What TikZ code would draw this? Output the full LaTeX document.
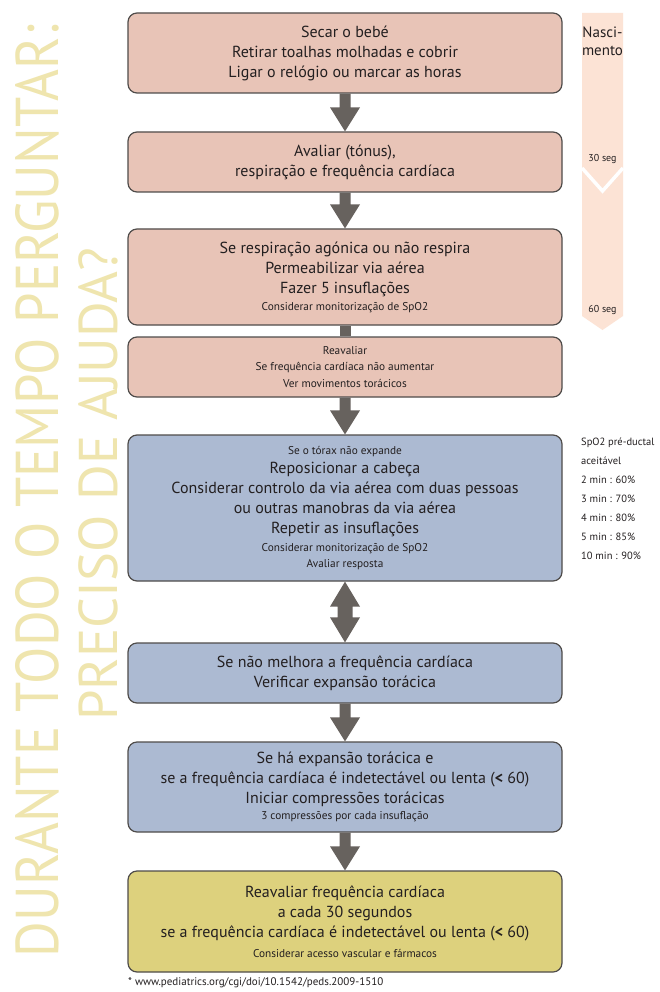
\documentclass[tikz,border=0pt]{standalone}
\usepackage{fontspec}
\setmainfont{PT Sans}
\usetikzlibrary{calc}

\definecolor{boxpink}{HTML}{E8C4B7}
\definecolor{boxblue}{HTML}{ACBAD2}
\definecolor{boxyellow}{HTML}{DDD17D}
\definecolor{boxline}{HTML}{4F4C4A}
\definecolor{arrowc}{HTML}{67625E}
\definecolor{timeline}{HTML}{FCE3D5}
\definecolor{banner}{HTML}{EFE5AE}
\definecolor{ink}{HTML}{231F20}

\newcommand\Lsz{\fontsize{16}{20}\selectfont}
\newcommand\Ssz{\fontsize{11.3}{16.5}\selectfont}

% single downward block arrow between two boxes
\newcommand\flowdown[2]{%
  \fill[arrowc] ($(#1.south)+(-5.5,0)$) -- ($(#2.north)+(-5.5,-24)$)
    -- ($(#2.north)+(-15,-24)$) -- (#2.north) -- ($(#2.north)+(15,-24)$)
    -- ($(#2.north)+(5.5,-24)$) -- ($(#1.south)+(5.5,0)$) -- cycle;}

\begin{document}
\begin{tikzpicture}[x=1pt,y=-1pt,
  stepbox/.style={draw=boxline, line width=1.2pt, rounded corners=9pt,
    minimum width=434pt, align=center, text=ink, inner sep=0pt, font=\Lsz},
  note/.style={text=ink, inner sep=0pt, font=\Ssz},
  bannertext/.style={text=banner, inner sep=0pt, rotate=90, anchor=base}]

\useasboundingbox (0,0) rectangle (659,992);
\fill[white] (0,0) rectangle (659,992);

% vertical banner on the left
\node[bannertext] (ban1) at (58,491)
  {\resizebox{932pt}{43pt}{\fontsize{60}{60}\selectfont DURANTE TODO O TEMPO PERGUNTAR:}};
\node[bannertext] (ban2) at (117,484)
  {\resizebox{473pt}{!}{\fontsize{60}{60}\selectfont PRECISO DE AJUDA?}};

% timeline strip
\fill[timeline] (582,13) -- (623,13) -- (623,316) -- (602.5,330) -- (582,316) -- cycle;
\draw[white, line width=3.5pt] (582,168) -- (602.5,191) -- (623,168);
\node[note, font=\fontsize{15}{18}\selectfont, align=center] (nasc) at (602.5,41) {Nasci-\\mento};
\node[note, font=\fontsize{10}{12}\selectfont] (t30) at (602.5,159) {30 seg};
\node[note, font=\fontsize{10}{12}\selectfont] (t60) at (602.5,310) {60 seg};

% flow boxes
\node[stepbox, fill=boxpink, minimum height=80pt] (b1) at (345,53)
  {Secar o bebé\\Retirar toalhas molhadas e cobrir\\Ligar o relógio ou marcar as horas};
\node[stepbox, fill=boxpink, minimum height=60pt] (b2) at (345,162)
  {Avaliar (tónus),\\respiração e frequência cardíaca};
\node[stepbox, fill=boxpink, minimum height=96pt] (b3) at (345,277)
  {Se respiração agónica ou não respira\\Permeabilizar via aérea\\Fazer 5 insuflações\\[-3pt]
   {\Ssz Considerar monitorização de SpO2}};
\node[stepbox, fill=boxpink, minimum height=60pt, font=\Ssz] (b4) at (345,367)
  {Reavaliar\\Se frequência cardíaca não aumentar\\Ver movimentos torácicos};
\node[stepbox, fill=boxblue, minimum height=146pt] (b5) at (345,508)
  {{\Ssz Se o tórax não expande}\\[-1pt]
   Reposicionar a cabeça\\
   Considerar controlo da via aérea com duas pessoas\\
   ou outras manobras da via aérea\\
   Repetir as insuflações\\[-2pt]
   {\Ssz Considerar monitorização de SpO2}\\[-4pt]
   {\Ssz Avaliar resposta}};
\node[stepbox, fill=boxblue, minimum height=60pt] (b6) at (345,673)
  {Se não melhora a frequência cardíaca\\Verificar expansão torácica};
\node[stepbox, fill=boxblue, minimum height=90pt] (b7) at (345,787)
  {Se há expansão torácica e\\
   se a frequência cardíaca é indetectável ou lenta (\textbf{<} 60)\\
   Iniciar compressões torácicas\\[-4pt]
   {\Ssz 3 compressões por cada insuflação}};
\node[stepbox, fill=boxyellow, minimum height=101pt] (b8) at (345,921.5)
  {Reavaliar frequência cardíaca\\
   a cada 30 segundos\\
   se a frequência cardíaca é indetectável ou lenta (\textbf{<} 60)\\
   {\Ssz Considerar acesso vascular e fármacos}};

% connectors
\flowdown{b1}{b2}
\flowdown{b2}{b3}
\fill[arrowc] ($(b3.south)+(-5.5,0)$) rectangle ($(b4.north)+(5.5,0)$);
\flowdown{b4}{b5}
\fill[arrowc] (b5.south) -- ($(b5.south)+(15,25)$) -- ($(b5.south)+(7.5,25)$)
  -- ($(b6.north)+(7.5,-25)$) -- ($(b6.north)+(15,-25)$) -- (b6.north)
  -- ($(b6.north)+(-15,-25)$) -- ($(b6.north)+(-7.5,-25)$)
  -- ($(b5.south)+(-7.5,25)$) -- ($(b5.south)+(-15,25)$) -- cycle;
\flowdown{b6}{b7}
\flowdown{b7}{b8}

% target saturation table
\node[note, anchor=west, align=left, font=\fontsize{10.5}{19}\selectfont] (spo2) at (581,499)
  {SpO2 pré-ductal\\aceitável\\2 min : 60\%\\3 min : 70\%\\4 min : 80\%\\5 min : 85\%\\10 min : 90\%};

% reference line
\node[note, anchor=west, font=\fontsize{11}{13}\selectfont] (ref) at (128,983)
  {* www.pediatrics.org/cgi/doi/10.1542/peds.2009-1510};
\end{tikzpicture}
\end{document}
